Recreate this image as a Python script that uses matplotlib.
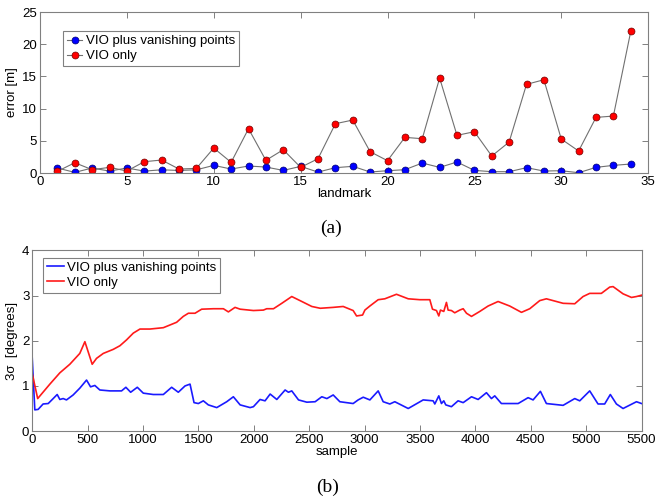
import numpy as np
import matplotlib.pyplot as plt

# ---- (a) landmark error ----
landmarks = np.arange(1, 35)
err_vp = [0.78, 0.10, 0.78, 0.30, 0.78, 0.30, 0.50, 0.40, 0.50, 1.19,
          0.62, 1.09, 0.93, 0.41, 1.03, 0.15, 0.83, 1.04, 0.16, 0.36,
          0.52, 1.55, 0.88, 1.71, 0.41, 0.21, 0.21, 0.83, 0.31, 0.36,
          0.05, 0.88, 1.19, 1.40]
err_vio = [0.26, 1.60, 0.52, 0.88, 0.31, 1.76, 2.02, 0.62, 0.72, 3.88,
           1.66, 6.88, 1.97, 3.62, 0.88, 2.22, 7.66, 8.23, 3.31, 1.92,
           5.54, 5.33, 14.75, 5.85, 6.42, 2.64, 4.81, 13.77, 14.49, 5.28,
           3.42, 8.64, 8.85, 22.0]

# ---- (b) 3-sigma orientation uncertainty ----
s_vio = [0, 50, 160, 250, 340, 430, 476, 542, 581, 642, 732, 792, 852, 913,
         973, 1063, 1184, 1244, 1304, 1364, 1410, 1470, 1530, 1636, 1726,
         1771, 1831, 1877, 1997, 2087, 2117, 2178, 2253, 2343, 2434, 2524,
         2600, 2717, 2807, 2897, 2928, 2982, 3003, 3048, 3123, 3183, 3288,
         3394, 3499, 3589, 3613, 3649, 3670, 3685, 3715, 3739, 3754, 3784,
         3814, 3859, 3890, 3920, 3965, 4040, 4115, 4205, 4310, 4416, 4491,
         4581, 4641, 4792, 4897, 4972, 5032, 5137, 5213, 5243, 5333, 5409,
         5454, 5500]
sig_vio = [1.28, 0.72, 1.04, 1.29, 1.48, 1.72, 1.98, 1.48, 1.61, 1.72,
           1.81, 1.89, 2.02, 2.17, 2.26, 2.26, 2.29, 2.35, 2.41, 2.54,
           2.61, 2.61, 2.70, 2.71, 2.71, 2.64, 2.74, 2.70, 2.67, 2.68,
           2.71, 2.71, 2.83, 2.98, 2.87, 2.76, 2.72, 2.74, 2.76, 2.67,
           2.55, 2.57, 2.68, 2.77, 2.91, 2.93, 3.03, 2.93, 2.91, 2.91,
           2.70, 2.67, 2.55, 2.68, 2.65, 2.85, 2.68, 2.67, 2.62, 2.68,
           2.71, 2.61, 2.54, 2.65, 2.77, 2.87, 2.77, 2.63, 2.71, 2.89,
           2.93, 2.83, 2.82, 2.98, 3.05, 3.05, 3.19, 3.20, 3.04, 2.96,
           2.98, 3.01]

s_vp = [0, 24, 54, 99, 145, 190, 226, 250, 280, 310, 370, 430, 491, 527,
        566, 611, 702, 807, 846, 889, 949, 1003, 1093, 1184, 1259, 1319,
        1380, 1425, 1461, 1500, 1545, 1590, 1666, 1756, 1816, 1877, 1967,
        1997, 2057, 2102, 2148, 2208, 2283, 2313, 2343, 2404, 2479, 2554,
        2614, 2660, 2717, 2777, 2897, 2942, 2988, 3048, 3123, 3168, 3228,
        3273, 3394, 3529, 3619, 3634, 3670, 3694, 3715, 3733, 3784, 3844,
        3890, 3965, 4025, 4100, 4145, 4175, 4235, 4386, 4476, 4521, 4587,
        4641, 4792, 4897, 4942, 5032, 5107, 5167, 5218, 5273, 5333, 5454,
        5500]
sig_vp = [1.65, 0.47, 0.48, 0.60, 0.61, 0.72, 0.81, 0.70, 0.72, 0.69,
          0.80, 0.95, 1.13, 0.98, 1.01, 0.91, 0.89, 0.89, 0.97, 0.86,
          0.97, 0.84, 0.81, 0.81, 0.97, 0.86, 1.00, 1.04, 0.63, 0.61,
          0.67, 0.58, 0.52, 0.65, 0.76, 0.58, 0.52, 0.54, 0.70, 0.67,
          0.82, 0.70, 0.91, 0.86, 0.89, 0.69, 0.64, 0.65, 0.76, 0.72,
          0.80, 0.65, 0.61, 0.69, 0.75, 0.69, 0.89, 0.65, 0.60, 0.65,
          0.50, 0.69, 0.67, 0.60, 0.78, 0.61, 0.67, 0.58, 0.54, 0.67,
          0.63, 0.76, 0.70, 0.85, 0.72, 0.78, 0.61, 0.61, 0.74, 0.69,
          0.88, 0.61, 0.57, 0.72, 0.67, 0.89, 0.60, 0.60, 0.81, 0.60,
          0.50, 0.65, 0.61]

plt.rcParams['font.family'] = ['Liberation Sans', 'DejaVu Sans']
plt.rcParams['font.size'] = 9.5
FRAME = '#808080'


def matlab_style(ax):
    for sp in ax.spines.values():
        sp.set_color(FRAME)
        sp.set_linewidth(0.8)
    ax.tick_params(direction='in', top=True, right=True, length=4,
                   width=0.7, color=FRAME, pad=2, labelsize=9.5)


def boxed_legend(ax, anchor, hlen):
    leg = ax.legend(loc='upper left', bbox_to_anchor=anchor, borderaxespad=0,
                    fancybox=False, edgecolor=FRAME, framealpha=1,
                    handlelength=hlen, handletextpad=0.25, borderpad=0.3,
                    labelspacing=0.2, fontsize=9.5)
    leg.get_frame().set_linewidth(0.8)
    return leg


fig = plt.figure(figsize=(6.56, 5.03), dpi=100)

# top panel
ax1 = fig.add_axes([0.061, 0.656, 0.927, 0.320])
ax1.plot(landmarks, err_vp, '-o', color='#707070', lw=0.8, ms=5,
         mfc='#0000ff', mec='#00006e', mew=0.5, label='VIO plus vanishing points')
ax1.plot(landmarks, err_vio, '-o', color='#707070', lw=0.8, ms=5,
         mfc='#ff0000', mec='#700000', mew=0.5, label='VIO only')
ax1.set_xlim(0, 35)
ax1.set_ylim(0, 25)
ax1.set_xticks(np.arange(0, 36, 5))
ax1.set_yticks(np.arange(0, 26, 5))
ax1.set_xlabel('landmark', labelpad=0)
ax1.set_ylabel('error [m]', labelpad=3)
matlab_style(ax1)
boxed_legend(ax1, (0.038, 0.882), 1.15)

# bottom panel
ax2 = fig.add_axes([0.049, 0.143, 0.929, 0.359])
ax2.plot(s_vp, sig_vp, color='#1a1aff', lw=1.2, label='VIO plus vanishing points')
ax2.plot(s_vio, sig_vio, color='#ff1a1a', lw=1.2, label='VIO only')
ax2.set_xlim(0, 5500)
ax2.set_ylim(0, 4)
ax2.set_xticks(np.arange(0, 5501, 500))
ax2.set_yticks(np.arange(0, 5, 1))
ax2.set_xlabel('sample', labelpad=0)
ax2.set_ylabel('3σ  [degrees]', labelpad=3)
matlab_style(ax2)
boxed_legend(ax2, (0.0176, 0.96), 1.3)

fig.text(0.505, 0.547, '(a)', ha='center', va='center',
         family='Liberation Serif', fontsize=14)
fig.text(0.500, 0.032, '(b)', ha='center', va='center',
         family='Liberation Serif', fontsize=14)

fig.savefig('out.png', dpi=100)
